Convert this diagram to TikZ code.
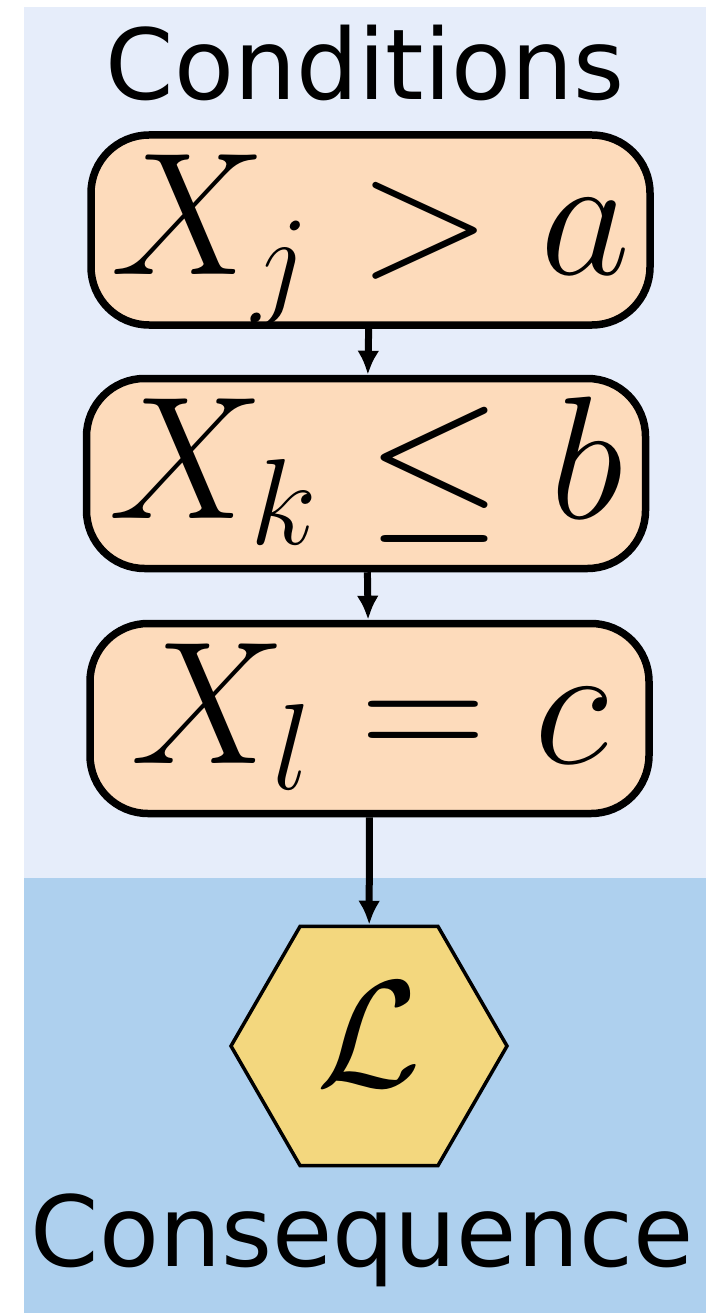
\RequirePackage{fix-cm}
\documentclass[tikz,border=0pt]{standalone}
\usepackage{fontspec}
\setsansfont{DejaVu Sans}
\usetikzlibrary{shapes.geometric,arrows.meta}
\definecolor{condbg}{RGB}{230,237,250}
\definecolor{consbg}{RGB}{174,208,238}
\definecolor{peach}{RGB}{253,219,187}
\definecolor{goldhex}{RGB}{243,215,126}
\tikzset{
    condbox/.style={draw, line width=7.5pt, fill=peach, rounded corners=58pt,
        minimum width=559pt, minimum height=190pt, inner sep=0pt,
        text height=120pt, text depth=30pt, font=\fontsize{175}{175}\selectfont},
    conshex/.style={draw, line width=3.5pt, fill=goldhex, regular polygon,
        regular polygon sides=6, minimum size=276pt, inner sep=0pt,
        text depth=22pt, font=\fontsize{152}{152}\selectfont},
    flow/.style={line width=7pt, -{Latex[length=24pt,width=22pt]}},
    heading/.style={font=\sffamily\fontsize{98}{100}\selectfont}
}
\begin{document}
\begin{tikzpicture}[x=1pt, y=-1pt]
    \useasboundingbox (0,0) rectangle (725,1313);
    % Panels
    \fill[condbg] (24,7) rectangle (706,878);
    \fill[consbg] (24,878) rectangle (706,1313);
    \node[heading] (condtitle) at (365,63) {Conditions};
    \node[heading] (constitle) at (362,1240) {Consequence};
    % Conditions
    \node[condbox] (cond1) at (370.5,230) {$X_j > a$};
    \node[condbox] (cond2) at (366,473.5) {$X_k \leq b$};
    \node[condbox] (cond3) at (369.5,718.5) {$X_l = c$};
    % Consequence
    \node[conshex] (rule) at (369,1046) {$\mathcal{L}$};
    % Arrows
    \draw[flow] (cond1) -- (cond2);
    \draw[flow] (cond2) -- (cond3);
    \draw[flow] (cond3) -- (rule);
\end{tikzpicture}
\end{document}
